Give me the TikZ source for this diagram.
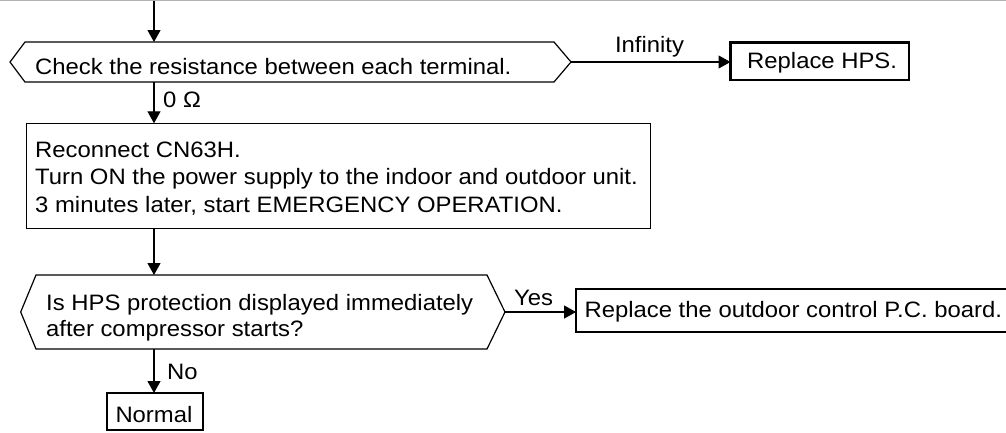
\documentclass[tikz,border=0pt]{standalone}
\usepackage{fontspec}
\setmainfont{Liberation Sans}[FakeStretch=1.07]
\usetikzlibrary{arrows.meta}
\begin{document}
\begin{tikzpicture}[x=1pt,y=-1pt,
  ln/.style={line width=1.2pt},
  arr/.style={line width=1.2pt,-{Triangle[length=12pt,width=13pt]}},
  boxthick/.style={draw,line width=2.6pt,inner sep=0pt,outer sep=0pt},
  boxthin/.style={draw,line width=1.2pt,inner sep=0pt,outer sep=0pt},
  body/.style={draw=none,inner sep=0pt,outer sep=0pt},
  txt/.style={anchor=base west,inner sep=0pt,font=\fontsize{22.3}{27.7}\selectfont},
  ctxt/.style={anchor=base,inner sep=0pt,font=\fontsize{22.3}{27.7}\selectfont}]
\useasboundingbox (0,0) rectangle (1006,432);
% top separator line
\draw[line width=1.2pt,black!30] (0,0.6) -- (1006,0.6);
\coordinate (top) at (154,0.6);

% decision 1
\node[body,minimum width=529pt,minimum height=40pt] (q1) at (289.5,62) {};
\coordinate (q1e) at ([xshift=17pt]q1.east);
\coordinate (q1w) at ([xshift=-15pt]q1.west);
\draw[ln] (q1.north west) -- (q1.north east) -- (q1e) -- (q1.south east) -- (q1.south west) -- (q1w) -- cycle;
\node[txt] (q1t) at (35,74.5) {Check the resistance between each terminal.};

% replace HPS
\node[boxthick,minimum width=178.5pt,minimum height=37.3pt] (hps) at (819.75,61.35) {};
\node[txt] (hpst) at (747,68.8) {Replace HPS.};
\draw[arr] (q1e) -- (q1e -| hps.west);
\node[ctxt] (inf) at (649.5,52) {Infinity};

% process box
\node[boxthin,minimum width=624.2pt,minimum height=105pt] (mid) at (338.6,175.8) {};
\node[txt] (m1) at (35,157.2) {Reconnect CN63H.};
\node[txt] (m2) at (35,184.4) {Turn ON the power supply to the indoor and outdoor unit.};
\node[txt] (m3) at (35,212) {3 minutes later, start EMERGENCY OPERATION.};

% decision 2
\node[body,minimum width=451pt,minimum height=74pt] (q2) at (261.5,312) {};
\coordinate (q2e) at ([xshift=18pt]q2.east);
\coordinate (q2w) at ([xshift=-15.3pt]q2.west);
\draw[ln] (q2.north west) -- (q2.north east) -- (q2e) -- (q2.south east) -- (q2.south west) -- (q2w) -- cycle;
\node[txt] (q2a) at (46,310) {Is HPS protection displayed immediately};
\node[txt] (q2b) at (46,336.5) {after compressor starts?};

% replace PCB
\node[boxthick,minimum width=434pt,minimum height=43pt] (pcb) at (793,310.5) {};
\node[txt] (pcbt) at (584.4,317) {Replace the outdoor control P.C. board.};
\draw[arr] (q2e) -- (q2e -| pcb.west);
\node[txt] (yes) at (514,305) {Yes};

% normal
\node[boxthick,minimum width=96pt,minimum height=37pt] (nrm) at (155,411.5) {};
\node[txt] (nrmt) at (115.3,422) {Normal};

% vertical connectors
\draw[arr] (top) -- (top |- q1.north);
\draw[arr] (top |- q1.south) -- (top |- mid.north);
\node[txt] (ohm) at (163,107.5) {0 Ω};
\draw[arr] (top |- mid.south) -- (top |- q2.north);
\draw[arr] (top |- q2.south) -- (top |- nrm.north);
\node[txt] (no) at (167,379.5) {No};
\end{tikzpicture}
\end{document}
